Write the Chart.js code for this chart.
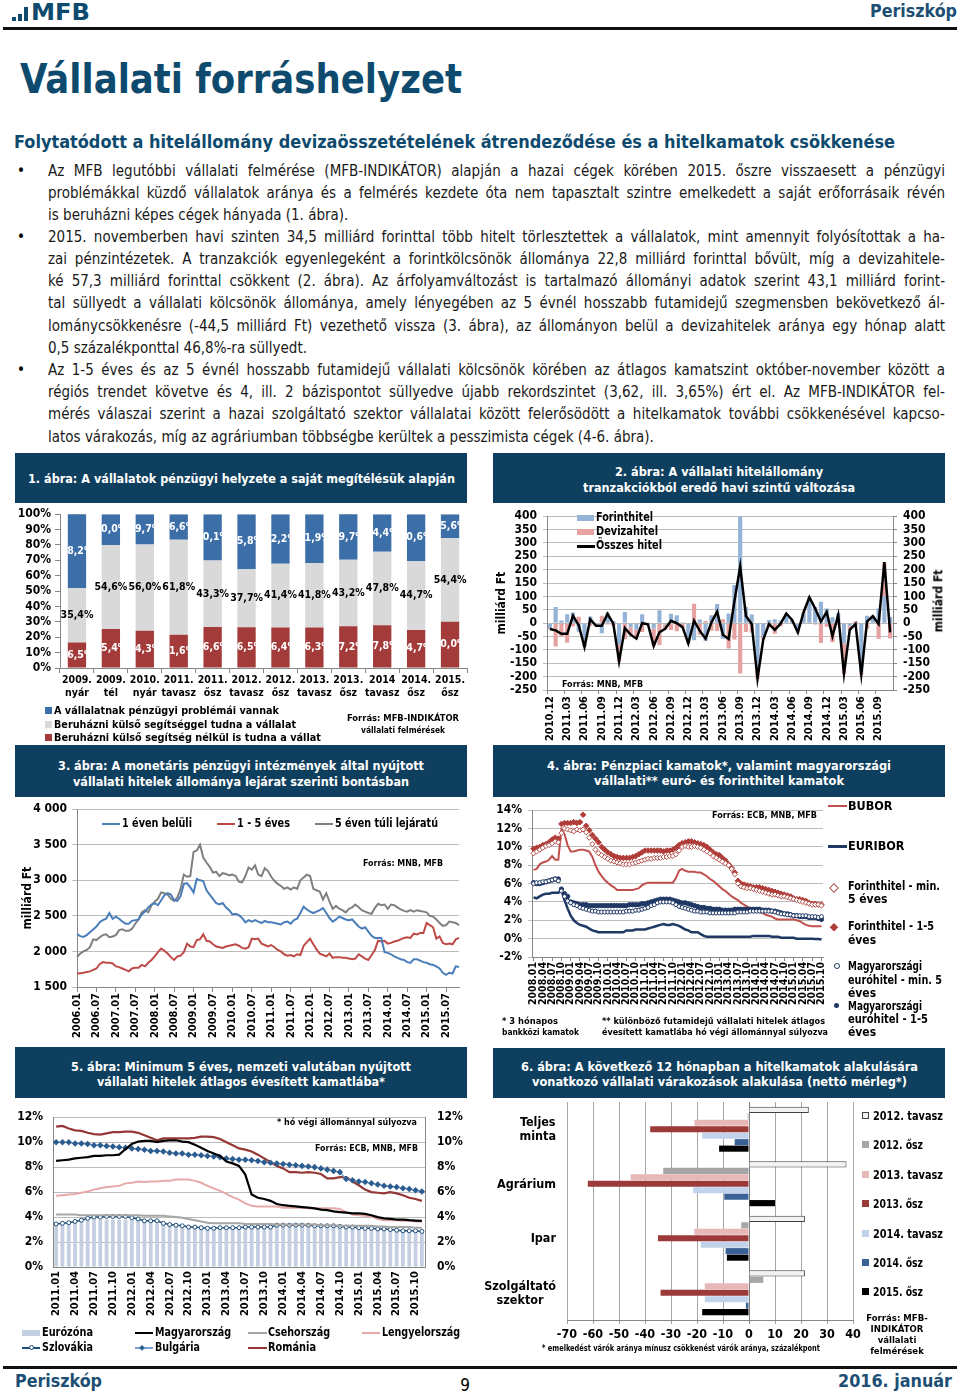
<!DOCTYPE html>
<html lang="hu">
<head>
<meta charset="utf-8">
<title>Vállalati forráshelyzet</title>
<script src="https://cdn.jsdelivr.net/npm/chart.js@4.4.1/dist/chart.umd.min.js"></script>
<style>
  html, body { margin: 0; padding: 0; }
  body { width: 960px; height: 1394px; position: relative; overflow: hidden; background: #fff;
         font-family: "DejaVu Sans Condensed", "DejaVu Sans", sans-serif; color: #000; }
  .a { position: absolute; white-space: nowrap; transform-origin: 0 0; }
  canvas { position: absolute; }
</style>
</head>
<body>
<canvas id="c1"></canvas>
<canvas id="c2"></canvas>
<canvas id="c3"></canvas>
<canvas id="c4"></canvas>
<canvas id="c5"></canvas>
<canvas id="c6"></canvas>
<script>
// ---- 1. ábra: pénzügyi helyzet (%)
const c1Labels = [['2009.', 'nyár'], ['2009.', 'tél'], ['2010.', 'nyár'], ['2011.', 'tavasz'], ['2011.', 'ősz'], ['2012.', 'tavasz'],
                  ['2012.', 'ősz'], ['2013.', 'tavasz'], ['2013.', 'ősz'], ['2014', 'tavasz'], ['2014.', 'ősz'], ['2015.', 'ősz']];
const c1Sajat = [16.5, 25.4, 24.3, 21.6, 26.6, 26.5, 26.4, 26.3, 27.2, 27.8, 24.7, 30.0];
const c1Kulso = [35.4, 54.6, 56.0, 61.8, 43.3, 37.7, 41.4, 41.8, 43.2, 47.8, 44.7, 54.4];
const c1Problema = [48.2, 20.0, 19.7, 16.6, 30.1, 35.8, 32.2, 31.9, 29.7, 24.4, 30.6, 15.6];

// ---- 2. ábra: havi tranzakciók, milliárd Ft (2010.12 - 2015.11)
const c2Forint = [-18, 60, 10, 33, 40, -32, -85, 25, -5, -38,
                  40, 8, -80, 42, -15, -25, 33, -5, -20, 48,
                  -5, 35, 30, 3, -66, -64, 14, -66, 30, 72,
                  -58, 36, 143, 400, 60, 32, -165, -50, 12, 15,
                  10, 35, 10, -30, 36, 90, 60, 80, 55, 22,
                  37, -75, -10, -10, -185, 28, 28, 55, 100, 22.8];
const c2Deviza = [-4, -87, -50, -73, -12, 24, -4, -10, -5, 28,
                  -5, -10, -63, -60, -28, -33, -33, 1, -65, -82,
                  -16, -26, -30, -18, -10, 73, -43, 8, -28, -29,
                  15, -95, -61, -188, -33, -35, -43, -11, -15, -40,
                  -12, 1, 2, -5, 5, 7, -5, -74, -13, -71,
                  -7, -114, -15, 7, -8, -22, -2, -58, 128, -57.3];
const c2Osszes = [-22, -27, -40, -40, 28, -8, -89, 15, -10, -10,
                  35, -2, -143, -18, -43, -58, 0, -4, -85, -34,
                  -21, 9, 0, -15, -76, 9, -29, -58, 2, 43,
                  -43, -59, 82, 212, 27, -3, -208, -61, -3, -25,
                  -2, 36, 12, -35, 41, 97, 55, 6, 42, -49,
                  30, -189, -25, -3, -193, 6, 26, -3, 228, -34.5];

// ---- 3. ábra: állomány lejárat szerint, milliárd Ft (2006.01 - 2015.11)
const c3Rovid = [2245, 2215, 2205, 2230, 2270, 2310, 2350, 2410, 2440, 2460, 2540, 2460,
                 2490, 2460, 2420, 2390, 2390, 2430, 2440, 2450, 2520, 2560, 2620, 2660,
                 2680, 2650, 2720, 2790, 2820, 2800, 2720, 2710, 2780, 2950, 2960, 2900,
                 2830, 3020, 3000, 2990, 2860, 2800, 2740, 2680, 2660, 2680, 2620, 2580,
                 2520, 2530, 2510, 2470, 2410, 2440, 2420, 2440, 2420, 2400, 2430, 2410,
                 2410, 2400, 2390, 2380, 2410, 2420, 2390, 2440, 2460, 2540, 2630, 2590,
                 2560, 2540, 2560, 2580, 2610, 2540, 2470, 2420, 2450, 2490, 2470, 2450,
                 2440, 2450, 2400, 2350, 2320, 2340, 2280, 2220, 2190, 2190, 2190, 1990,
                 1980, 1960, 1930, 1910, 1890, 1880, 1850, 1840, 1890, 1890, 1870, 1850,
                 1840, 1820, 1810, 1790, 1760, 1700, 1670, 1700, 1690, 1790, 1780];
const c3Kozep = [1690, 1695, 1700, 1710, 1720, 1740, 1760, 1820, 1850, 1840, 1840, 1830,
                 1790, 1780, 1760, 1740, 1720, 1760, 1770, 1770, 1810, 1790, 1840, 1880,
                 1930, 1990, 2040, 2010, 1970, 1920, 1880, 1930, 1940, 1990, 2110, 2070,
                 2060, 2160, 2170, 2240, 2150, 2140, 2100, 2070, 2060, 2050, 2070, 2080,
                 2090, 2100, 2080, 2050, 2040, 2060, 2180, 2170, 2180, 2110, 2090, 2070,
                 2090, 2060, 2020, 2000, 1960, 1940, 1950, 1930, 1960, 1950, 2080, 2130,
                 2180, 2100, 2030, 1970, 1950, 1930, 1970, 1910, 1920, 1920, 1910, 1910,
                 1900, 1890, 1900, 1960, 1930, 1900, 1880, 1950, 2020, 2150, 2140, 2150,
                 2110, 2120, 2140, 2150, 2170, 2190, 2200, 2190, 2250, 2240, 2260, 2260,
                 2400, 2370, 2340, 2180, 2210, 2120, 2100, 2110, 2100, 2170, 2190];
const c3Hosszu = [1920, 1970, 2000, 2020, 2060, 2170, 2160, 2200, 2230, 2240, 2200, 2210,
                  2230, 2300, 2310, 2290, 2290, 2320, 2390, 2450, 2550, 2580, 2550, 2650,
                  2700, 2740, 2830, 2820, 2800, 2740, 2710, 2760, 2880, 3080, 3050, 3060,
                  3400, 3420, 3500, 3320, 3250, 3190, 3110, 3120, 3060, 3100, 3090, 3070,
                  3080, 3060, 2980, 2970, 3060, 3180, 3150, 3210, 3080, 3060, 3170, 3130,
                  3050, 2990, 2950, 2920, 2880, 2900, 2870, 2900, 2880, 3000, 3040, 3080,
                  3060, 2880, 2860, 2840, 2730, 2820, 2700, 2600, 2640, 2600, 2580, 2550,
                  2600, 2620, 2660, 2620, 2580, 2560, 2540, 2530, 2610, 2670, 2650, 2660,
                  2600, 2660, 2650, 2620, 2590, 2570, 2560, 2580, 2560, 2580, 2570, 2560,
                  2550, 2500, 2490, 2450, 2400, 2360, 2370, 2420, 2410, 2400, 2370];

// ---- 4. ábra: kamatok, % (2008.01 - 2015.10)
const c4Bubor = [7.5, 7.6, 8.1, 8.3, 8.4, 8.6, 9.0, 8.6, 8.6, 11.9, 11.4, 10.2,
                 9.5, 9.5, 9.6, 9.7, 9.7, 9.6, 9.5, 8.9, 8.0, 7.3, 6.8, 6.4,
                 6.1, 5.8, 5.6, 5.3, 5.3, 5.3, 5.3, 5.3, 5.3, 5.4, 5.5, 5.8,
                 6.0, 6.1, 6.1, 6.1, 6.1, 6.1, 6.1, 6.1, 6.1, 6.1, 6.6, 7.4,
                 7.6, 7.4, 7.3, 7.3, 7.3, 7.2, 7.2, 7.0, 6.8, 6.5, 6.3, 6.0,
                 5.7, 5.4, 5.2, 4.9, 4.6, 4.4, 4.2, 3.9, 3.7, 3.5, 3.3, 3.1,
                 3.0, 2.9, 2.8, 2.6, 2.5, 2.4, 2.2, 2.1, 2.1, 2.1, 2.1, 2.1,
                 2.1, 2.0, 1.9, 1.7, 1.5, 1.4, 1.35, 1.35, 1.35, 1.35];
const c4Euribor = [4.5, 4.4, 4.6, 4.8, 4.9, 4.9, 5.0, 5.0, 5.0, 5.3, 4.2, 3.3,
                   2.5, 2.0, 1.7, 1.5, 1.4, 1.3, 1.1, 0.9, 0.8, 0.7, 0.7, 0.7,
                   0.7, 0.7, 0.7, 0.7, 0.7, 0.7, 0.9, 0.9, 0.9, 1.0, 1.0, 1.0,
                   1.0, 1.1, 1.2, 1.3, 1.4, 1.5, 1.6, 1.5, 1.5, 1.6, 1.5, 1.4,
                   1.2, 1.0, 0.9, 0.7, 0.7, 0.7, 0.5, 0.3, 0.2, 0.2, 0.2, 0.2,
                   0.2, 0.2, 0.2, 0.2, 0.2, 0.2, 0.2, 0.2, 0.2, 0.2, 0.2, 0.3,
                   0.3, 0.3, 0.3, 0.3, 0.3, 0.2, 0.2, 0.2, 0.1, 0.1, 0.1, 0.1,
                   0.1, 0.0, 0.0, 0.0, 0.0, 0.0, -0.02, -0.05, -0.05, -0.1];
const c4FtHosszu = [9.3, 9.5, 9.7, 9.9, 10.1, 10.2, 10.4, 10.6, 10.5, 11.5, 12.0, 11.9,
                    11.8, 11.7, 11.9, 11.8, 11.9, 11.6, 11.0, 10.3, 9.7, 9.3, 9.1, 8.9,
                    8.7, 8.5, 8.4, 8.3, 8.2, 8.1, 8.1, 8.1, 8.2, 8.3, 8.4, 8.5,
                    8.6, 8.7, 8.7, 8.8, 8.8, 8.8, 8.9, 8.9, 9.0, 9.0, 9.2, 9.6,
                    10.0, 10.1, 10.0, 10.0, 10.1, 10.0, 9.9, 9.7, 9.5, 9.3, 9.0, 8.8,
                    8.6, 8.4, 8.2, 8.0, 7.6, 7.0, 6.0, 5.7, 5.6, 5.5, 5.5, 5.4,
                    5.3, 5.2, 5.1, 5.0, 4.9, 4.8, 4.8, 4.7, 4.6, 4.6, 4.5, 4.4,
                    4.3, 4.2, 4.1, 4.0, 3.9, 3.8, 3.7, 3.7, 3.7, 3.6];
const c4FtKozep = [9.8, 9.9, 10.0, 10.2, 10.3, 10.5, 10.8, 11.0, 10.9, 12.5, 12.6, 12.6,
                   12.6, 12.7, 12.6, 12.7, 13.5, 12.3, 11.8, 11.3, 10.9, 10.5, 10.0, 9.7,
                   9.4, 9.2, 9.0, 8.9, 8.8, 8.8, 8.8, 8.8, 8.9, 9.0, 9.2, 9.4,
                   9.6, 9.6, 9.6, 9.6, 9.6, 9.6, 9.5, 9.6, 9.6, 9.7, 9.9, 10.2,
                   10.4, 10.5, 10.6, 10.6, 10.5, 10.4, 10.3, 10.2, 10.0, 9.7, 9.4, 9.2,
                   9.1, 8.8, 8.5, 8.1, 7.7, 7.2, 6.3, 6.0, 5.9, 5.8, 5.7, 5.6,
                   5.6, 5.6, 5.5, 5.4, 5.3, 5.2, 5.1, 5.0, 4.9, 4.8, 4.7, 4.6,
                   4.4, 4.3, 4.3, 4.2, 4.1, 3.9, 3.8, 3.8, 3.7, 3.7];
const c4EurHosszu = [6.0, 6.1, 6.1, 6.2, 6.2, 6.3, 6.4, 6.5, 6.3, 5.2, 4.6, 4.1,
                     3.9, 3.7, 3.6, 3.4, 3.3, 3.2, 3.1, 3.0, 3.0, 2.9, 2.9, 2.9,
                     2.9, 2.9, 2.9, 2.9, 2.9, 2.9, 3.0, 3.0, 3.0, 3.1, 3.1, 3.2,
                     3.3, 3.4, 3.6, 3.7, 3.9, 4.0, 4.0, 4.0, 4.0, 3.9, 3.7, 3.5,
                     3.4, 3.3, 3.2, 3.1, 3.0, 3.0, 2.9, 2.9, 2.9, 2.8, 2.8, 2.8,
                     2.8, 2.8, 2.8, 2.8, 2.8, 2.8, 2.9, 2.9, 2.9, 2.9, 3.0, 3.0,
                     3.0, 3.0, 3.0, 3.0, 3.0, 3.0, 2.9, 2.8, 2.7, 2.7, 2.6, 2.6,
                     2.5, 2.5, 2.5, 2.5, 2.5, 2.4, 2.4, 2.4, 2.3, 2.4];
const c4EurKozep = [6.1, 6.0, 6.0, 6.1, 6.2, 6.3, 6.4, 6.5, 6.5, 5.4, 4.9, 4.6,
                    4.0, 3.9, 3.8, 3.7, 3.7, 3.7, 3.6, 3.6, 3.6, 3.6, 3.6, 3.6,
                    3.6, 3.6, 3.6, 3.6, 3.6, 3.6, 3.6, 3.7, 3.7, 3.7, 3.7, 3.8,
                    3.8, 3.9, 4.0, 4.1, 4.2, 4.3, 4.3, 4.3, 4.3, 4.2, 4.1, 4.0,
                    3.9, 3.9, 3.8, 3.7, 3.6, 3.5, 3.4, 3.4, 3.3, 3.3, 3.2, 3.2,
                    3.2, 3.1, 3.1, 3.1, 3.1, 3.2, 3.2, 3.2, 3.2, 3.2, 3.2, 3.2,
                    3.2, 3.2, 3.1, 3.1, 3.1, 3.0, 3.0, 2.9, 2.8, 2.7, 2.7, 2.6,
                    2.5, 2.5, 2.4, 2.4, 2.4, 2.3, 2.3, 2.3, 2.2, 2.1];

// ---- 5. ábra: min. 5 éves hitelek kamatlába, % (2011.01 - 2015.11)
const c5Euro = [3.5, 3.5, 3.5, 3.6, 3.7, 3.8, 3.8, 3.8, 3.8, 3.8, 3.8, 3.8,
                3.8, 3.7, 3.6, 3.6, 3.5, 3.5, 3.4, 3.4, 3.3, 3.3, 3.2, 3.2,
                3.2, 3.2, 3.2, 3.2, 3.2, 3.2, 3.2, 3.2, 3.2, 3.3, 3.3, 3.4,
                3.4, 3.4, 3.4, 3.4, 3.4, 3.3, 3.3, 3.3, 3.3, 3.2, 3.2, 3.2,
                3.1, 3.1, 3.1, 3.0, 3.0, 3.0, 2.9, 2.9, 2.9, 2.9, 2.8];
const c5Magyar = [8.5, 8.55, 8.6, 8.7, 8.75, 8.8, 8.9, 8.9, 8.95, 8.95, 9.0, 9.45,
                  9.85, 10.05, 10.1, 10.1, 10.0, 10.1, 10.15, 10.15, 10.05, 10.0, 9.8, 9.55,
                  9.3, 9.1, 8.9, 8.45, 8.3, 8.1, 7.4, 5.8, 5.55, 5.45, 5.3, 5.05,
                  4.95, 4.9, 4.85, 4.8, 4.75, 4.7, 4.6, 4.55, 4.45, 4.4, 4.35, 4.3,
                  4.3, 4.25, 4.15, 4.0, 3.9, 3.85, 3.8, 3.8, 3.75, 3.72, 3.7];
const c5Cseh = [4.2, 4.2, 4.2, 4.2, 4.15, 4.15, 4.15, 4.15, 4.15, 4.15, 4.15, 4.15,
                4.15, 4.15, 4.1, 4.1, 4.1, 4.1, 4.05, 4.0, 3.95, 3.85, 3.75, 3.65,
                3.55, 3.5, 3.5, 3.5, 3.5, 3.5, 3.45, 3.45, 3.45, 3.45, 3.45, 3.4,
                3.4, 3.4, 3.4, 3.4, 3.4, 3.4, 3.35, 3.35, 3.35, 3.3, 3.3, 3.3,
                3.3, 3.3, 3.3, 3.25, 3.25, 3.2, 3.2, 3.2, 3.2, 3.15, 3.15];
const c5Lengyel = [5.7, 5.75, 5.8, 5.85, 5.95, 6.05, 6.2, 6.3, 6.4, 6.45, 6.5, 6.7,
                   6.75, 6.85, 6.8, 6.85, 6.85, 6.9, 6.9, 7.0, 7.0, 7.0, 6.9, 6.75,
                   6.5, 6.3, 6.1, 5.85, 5.6, 5.4, 5.1, 4.9, 4.85, 4.85, 4.85, 4.85,
                   4.75, 4.75, 4.75, 4.75, 4.7, 4.7, 4.7, 4.7, 4.7, 4.65, 4.4, 4.2,
                   4.15, 4.1, 4.05, 3.85, 3.75, 3.75, 3.75, 3.7, 3.7, 3.65, 3.65];
const c5Szlovak = [3.45, 3.5, 3.55, 3.65, 3.75, 3.9, 4.0, 4.0, 4.05, 4.05, 4.05, 4.05,
                   3.95, 3.85, 3.7, 3.7, 3.7, 3.5, 3.4, 3.35, 3.3, 3.2, 3.2, 3.15,
                   3.1, 3.1, 3.15, 3.15, 3.15, 3.15, 3.2, 3.2, 3.2, 3.2, 3.2, 3.35,
                   3.35, 3.35, 3.35, 3.35, 3.35, 3.3, 3.3, 3.3, 3.3, 3.25, 3.2, 3.2,
                   3.15, 3.1, 3.1, 3.05, 3.05, 3.0, 2.95, 2.9, 2.9, 2.9, 2.85];
const c5Bolgar = [10.0, 10.0, 10.0, 9.9, 9.9, 9.85, 9.75, 9.75, 9.7, 9.65, 9.6, 9.55,
                  9.5, 9.45, 9.4, 9.3, 9.3, 9.25, 9.15, 9.1, 9.1, 9.0, 9.0, 8.95,
                  8.9, 8.85, 8.8, 8.7, 8.65, 8.6, 8.6, 8.55, 8.5, 8.4, 8.35, 8.3,
                  8.25, 8.2, 8.15, 8.1, 8.05, 8.0, 7.9, 7.8, 7.7, 7.6, 7.05, 6.95,
                  6.85, 6.8, 6.7, 6.6, 6.5, 6.45, 6.4, 6.3, 6.25, 6.15, 6.05];
const c5Roman = [11.25, 11.3, 11.1, 10.95, 10.9, 10.75, 10.65, 10.6, 10.7, 10.8, 10.8, 10.85,
                 10.85, 10.75, 10.55, 10.35, 10.15, 10.3, 10.3, 10.3, 10.3, 10.3, 10.35, 10.45,
                 10.45, 10.4, 10.25, 10.0, 9.75, 9.5, 9.4, 9.25, 9.0, 8.7, 8.4, 8.1,
                 7.9, 7.6, 7.6, 7.55, 7.6, 7.55, 7.45, 7.1, 7.1, 7.2, 7.2, 6.85,
                 6.55, 6.2, 6.0, 5.95, 5.9, 6.0, 5.9, 5.75, 5.55, 5.45, 5.3];

// ---- 6. ábra: várakozások, nettó mérleg (százalékpont)
const c6Agazatok = [['Teljes', 'minta'], ['Agrárium'], ['Ipar'], ['Szolgáltató', 'szektor']];
const c6Tavasz2012 = [23, 37.5, 21.5, 21.5];
const c6Osz2012 = [-0.5, -33, -3, 5.5];
const c6Tavasz2013 = [-21, -45.5, -21, -17];
const c6Osz2013 = [-38, -62, -35, -34];
const c6Tavasz2014 = [-18, -21.5, -18.5, -17];
const c6Osz2014 = [-5.5, -9.5, -9, -1.2];
const c6Osz2015 = [-11.5, 10, -8.5, -18];

function honapok(ev, ho, db) {
  const out = [];
  for (let i = 0; i < db; i++) {
    const m = ho - 1 + i;
    out.push((ev + Math.floor(m / 12)) + '.' + String(m % 12 + 1).padStart(2, '0'));
  }
  return out;
}
const c2Honapok = honapok(2010, 12, c2Osszes.length);
const c3Honapok = honapok(2006, 1, c3Rovid.length);
const c4Honapok = honapok(2008, 1, c4Bubor.length);
const c5Honapok = honapok(2011, 1, c5Magyar.length);

// ---- page helpers
const KEK = '#0e4a6e', NAVY = '#0f3f5e', AX = '#868686', GR = '#bcbcbc', NONE = 'rgba(0,0,0,0)';

function txt(x, y, s, size, o = {}) {
  const d = document.createElement('div');
  d.className = 'a';
  d.textContent = s;
  d.style.fontSize = size + 'px';
  d.style.lineHeight = size + 'px';
  d.style.fontWeight = o.normal ? 'normal' : 'bold';
  if (o.color) d.style.color = o.color;
  document.body.appendChild(d);
  const nat = d.getBoundingClientRect().width;
  const w = o.w || nat;
  if (o.w) d.style.transform = 'scaleX(' + (o.w / nat) + ')';
  let left = x;
  if (o.align === 'center') left = x - w / 2;
  if (o.align === 'right') left = x - w;
  d.style.left = left + 'px';
  d.style.top = (y - size / 2) + 'px';
  return d;
}
function vtxt(cx, cy, s, size) {
  const d = txt(0, 0, s, size);
  const w = d.getBoundingClientRect().width;
  d.style.left = (cx - w / 2) + 'px';
  d.style.top = (cy - size / 2) + 'px';
  d.style.transformOrigin = '50% 50%';
  d.style.transform = 'rotate(-90deg)';
}
function rect(x, y, w, h, css) {
  const d = document.createElement('div');
  d.className = 'a';
  Object.assign(d.style, { left: x + 'px', top: y + 'px', width: w + 'px', height: h + 'px' }, css || {});
  document.body.appendChild(d);
  return d;
}
function sor(y, s, utolso) {
  const d = txt(48, y, s, 15, { normal: true, color: '#1a1a1a' });
  if (!utolso) {
    const nat = d.getBoundingClientRect().width;
    const gaps = (s.match(/ /g) || []).length;
    d.style.wordSpacing = ((897 - nat) / gaps) + 'px';
  }
}
function cim(x, y, w, h, sorok) {
  rect(x, y, w, h, { background: NAVY });
  sorok.forEach(r => txt(x + w / 2, r[0], r[1], 13, { color: '#fff', w: r[2], align: 'center' }));
}

// ---- header, text
rect(12, 17, 4, 4, { background: KEK });
rect(18, 14, 4, 7, { background: KEK });
rect(24, 7, 4, 14, { background: KEK });
txt(31, 12, 'MFB', 23, { color: KEK, w: 59 });
txt(957, 11, 'Periszkóp', 17, { color: '#1d4f74', w: 87, align: 'right' });
rect(3, 27, 954, 3, { background: '#111' });

txt(20, 79, 'Vállalati forráshelyzet', 40, { color: KEK, w: 442 });
txt(14, 142, 'Folytatódott a hitelállomány devizaösszetételének átrendeződése és a hitelkamatok csökkenése', 17, { color: KEK, w: 881 });

[171, 237, 370].forEach(y => txt(17, y, '•', 15, { normal: true }));
sor(171, 'Az MFB legutóbbi vállalati felmérése (MFB-INDIKÁTOR) alapján a hazai cégek körében 2015. őszre visszaesett a pénzügyi');
sor(193, 'problémákkal küzdő vállalatok aránya és a felmérés kezdete óta nem tapasztalt szintre emelkedett a saját erőforrásaik révén');
sor(215, 'is beruházni képes cégek hányada (1. ábra).', true);
sor(237, '2015. novemberben havi szinten 34,5 milliárd forinttal több hitelt törlesztettek a vállalatok, mint amennyit folyósítottak a ha-');
sor(259, 'zai pénzintézetek. A tranzakciók egyenlegeként a forintkölcsönök állománya 22,8 milliárd forinttal bővült, míg a devizahitele-');
sor(281, 'ké 57,3 milliárd forinttal csökkent (2. ábra). Az árfolyamváltozást is tartalmazó állományi adatok szerint 43,1 milliárd forint-');
sor(303, 'tal süllyedt a vállalati kölcsönök állománya, amely lényegében az 5 évnél hosszabb futamidejű szegmensben bekövetkező ál-');
sor(326, 'lománycsökkenésre (-44,5 milliárd Ft) vezethető vissza (3. ábra), az állományon belül a devizahitelek aránya egy hónap alatt');
sor(348, '0,5 százalékponttal 46,8%-ra süllyedt.', true);
sor(370, 'Az 1-5 éves és az 5 évnél hosszabb futamidejű vállalati kölcsönök körében az átlagos kamatszint október-november között a');
sor(392, 'régiós trendet követve és 4, ill. 2 bázispontot süllyedve újabb rekordszintet (3,62, ill. 3,65%) ért el. Az MFB-INDIKÁTOR fel-');
sor(414, 'mérés válaszai szerint a hazai szolgáltató szektor vállalatai között felerősödött a hitelkamatok további csökkenésével kapcso-');
sor(437, 'latos várakozás, míg az agráriumban többségbe kerültek a pesszimista cégek (4-6. ábra).', true);

// ---- chart title boxes
cim(15, 453, 452, 50, [[478, '1. ábra: A vállalatok pénzügyi helyzete a saját megítélésük alapján', 427]]);
cim(493, 453, 452, 50, [[471, '2. ábra: A vállalati hitelállomány', 208], [487, 'tranzakciókból eredő havi szintű változása', 272]]);
cim(15, 745, 452, 52, [[765, '3. ábra: A monetáris pénzügyi intézmények által nyújtott', 366], [781, 'vállalati hitelek állománya lejárat szerinti bontásban', 336]]);
cim(493, 745, 452, 52, [[765, '4. ábra: Pénzpiaci kamatok*, valamint magyarországi', 344], [780, 'vállalati** euró- és forinthitel kamatok', 250]]);
cim(15, 1047, 452, 51, [[1066, '5. ábra: Minimum 5 éves, nemzeti valutában nyújtott', 340], [1081, 'vállalati hitelek átlagos évesített kamatlába*', 288]]);
cim(493, 1048, 452, 50, [[1066, '6. ábra: A következő 12 hónapban a hitelkamatok alakulására', 397], [1081, 'vonatkozó vállalati várakozások alakulása (nettó mérleg*)', 375]]);

// ---- footer
rect(3, 1366, 954, 3, { background: '#111' });
txt(15, 1381, 'Periszkóp', 17, { color: '#1d4f74', w: 87 });
txt(465, 1385, '9', 17, { normal: true, align: 'center' });
txt(952, 1381, '2016. január', 17, { color: '#1d4f74', w: 114, align: 'right' });

// ---- Chart.js
Chart.defaults.font.family = '"DejaVu Sans Condensed", "DejaVu Sans", sans-serif';
Chart.defaults.font.weight = 'bold';
Chart.defaults.font.size = 11;
Chart.defaults.color = '#000';
Chart.defaults.animation = false;
Chart.defaults.responsive = false;
Chart.defaults.maintainAspectRatio = false;
Chart.defaults.devicePixelRatio = 1;
Chart.defaults.plugins.legend.display = false;
Chart.defaults.plugins.tooltip.enabled = false;
Chart.defaults.events = [];

function fixW(w) { return s => { s.width = w; }; }
function fixH(h) { return s => { s.height = h; }; }
function place(id, x, y, w, h) {
  const c = document.getElementById(id);
  c.width = w; c.height = h;
  c.style.left = x + 'px'; c.style.top = y + 'px';
  return c;
}

const barLabels = {
  id: 'barLabels',
  afterDatasetsDraw(chart) {
    const ctx = chart.ctx;
    ctx.save();
    ctx.font = 'bold 10.5px "DejaVu Sans Condensed", "DejaVu Sans", sans-serif';
    ctx.textAlign = 'center';
    ctx.textBaseline = 'middle';
    chart.data.datasets.forEach((ds, i) => {
      chart.getDatasetMeta(i).data.forEach((bar, j) => {
        ctx.fillStyle = ds.labelColor;
        ctx.fillText(ds.data[j].toFixed(1).replace('.', ',') + '%', bar.x, (bar.y + bar.base) / 2);
      });
    });
    ctx.restore();
  }
};

// 1. ábra
new Chart(place('c1', 0, 503, 480, 242), {
  type: 'bar',
  data: {
    labels: c1Labels,
    datasets: [
      { label: 'Beruházni külső segítség nélkül is tudna a vállat', data: c1Sajat, backgroundColor: '#a43b3b', labelColor: '#fff' },
      { label: 'Beruházni külső segítséggel tudna a vállalat', data: c1Kulso, backgroundColor: '#d9d9d9', labelColor: '#000' },
      { label: 'A vállalatnak pénzügyi problémái vannak', data: c1Problema, backgroundColor: '#3c6ea8', labelColor: '#fff' }
    ]
  },
  options: {
    layout: { padding: { top: 9, right: 13, left: 0, bottom: 0 } },
    datasets: { bar: { barPercentage: 0.54, categoryPercentage: 1 } },
    scales: {
      x: { stacked: true, grid: { drawOnChartArea: false, tickLength: 5, color: AX }, border: { color: AX },
           ticks: { font: { size: 10.5 }, padding: 1, maxRotation: 0, autoSkip: false }, afterFit: fixH(77) },
      y: { stacked: true, min: 0, max: 100, grid: { drawOnChartArea: false, tickLength: 5, color: AX }, border: { color: AX },
           ticks: { stepSize: 10, autoSkip: false, font: { size: 12 }, padding: 4, callback: v => v + '%' }, afterFit: fixW(60) }
    }
  },
  plugins: [barLabels]
});
rect(45, 707, 7, 7, { background: '#3c6ea8' });
rect(45, 721, 7, 7, { background: '#d9d9d9' });
rect(45, 734, 7, 7, { background: '#a43b3b' });
txt(54, 710, 'A vállalatnak pénzügyi problémái vannak', 11, { w: 225 });
txt(54, 724, 'Beruházni külső segítséggel tudna a vállalat', 11, { w: 242 });
txt(54, 737, 'Beruházni külső segítség nélkül is tudna a vállat', 11, { w: 267 });
txt(403, 718, 'Forrás: MFB-INDIKÁTOR', 9.5, { w: 112, align: 'center' });
txt(403, 730, 'vállalati felmérések', 9.5, { w: 84, align: 'center' });

// 2. ábra
new Chart(place('c2', 480, 503, 480, 252), {
  type: 'bar',
  data: {
    labels: c2Honapok,
    datasets: [
      { type: 'line', label: 'Összes hitel', data: c2Osszes, borderColor: '#000', borderWidth: 2.5, pointRadius: 0, tension: 0, order: 0, stack: 'ossz' },
      { type: 'bar', label: 'Forinthitel', data: c2Forint, backgroundColor: '#95b3d7', order: 1, stack: 'hitel', barPercentage: 0.72, categoryPercentage: 1 },
      { type: 'bar', label: 'Devizahitel', data: c2Deviza, backgroundColor: '#e6a2a1', order: 1, stack: 'hitel', barPercentage: 0.72, categoryPercentage: 1 }
    ]
  },
  options: {
    layout: { padding: { top: 9, right: 0, left: 0, bottom: 0 } },
    scales: {
      x: { stacked: true, offset: true, grid: { drawOnChartArea: false, tickLength: 4, color: c => c.index % 3 === 0 ? AX : NONE }, border: { color: AX },
           ticks: { autoSkip: false, maxRotation: 90, minRotation: 90, font: { size: 11 }, padding: 2,
                    callback: (v, i) => i % 3 === 0 ? c2Honapok[i] : '' }, afterFit: fixH(65) },
      y: { stacked: true, min: -250, max: 400, grid: { color: GR, tickLength: 4 }, border: { color: AX },
           ticks: { stepSize: 50, autoSkip: false, font: { size: 12 }, padding: 6 },
           title: { display: true, text: 'milliárd Ft', font: { size: 12 }, padding: { top: 15, bottom: 0 } }, afterFit: fixW(67) },
      y2: { position: 'right', min: -250, max: 400, grid: { drawOnChartArea: false, tickLength: 4, color: AX }, border: { color: AX },
            ticks: { stepSize: 50, autoSkip: false, font: { size: 12 }, padding: 6 }, afterFit: fixW(67) }
    }
  }
});
vtxt(938, 601, 'milliárd Ft', 12);
rect(577, 515, 17, 6, { background: '#95b3d7' });
rect(577, 529, 17, 6, { background: '#e6a2a1' });
rect(577, 545, 18, 2.5, { background: '#000' });
txt(596, 518, 'Forinthitel', 11.5, { w: 57 });
txt(596, 532, 'Devizahitel', 11.5, { w: 62 });
txt(596, 546, 'Összes hitel', 11.5, { w: 66 });
txt(562, 684, 'Forrás: MNB, MFB', 9.5, { w: 81 });

// 3. ábra
new Chart(place('c3', 0, 797, 480, 248), {
  type: 'line',
  data: {
    labels: c3Honapok,
    datasets: [
      { label: '1 éven belüli', data: c3Rovid, borderColor: '#4a7ebb' },
      { label: '1 - 5 éves', data: c3Kozep, borderColor: '#be4b48' },
      { label: '5 éven túli lejáratú', data: c3Hosszu, borderColor: '#808080' }
    ]
  },
  options: {
    elements: { point: { radius: 0 }, line: { borderWidth: 2, tension: 0 } },
    layout: { padding: { top: 10, right: 21, left: 0, bottom: 0 } },
    scales: {
      x: { offset: false, grid: { drawOnChartArea: false, tickLength: 5, color: c => c.index % 6 === 0 ? AX : NONE }, border: { color: AX },
           ticks: { autoSkip: false, maxRotation: 90, minRotation: 90, font: { size: 11 }, padding: 1,
                    callback: (v, i) => i % 6 === 0 ? c3Honapok[i] : '' }, afterFit: fixH(58) },
      y: { min: 1500, max: 4000, grid: { color: GR, tickLength: 5 }, border: { color: AX },
           ticks: { stepSize: 500, autoSkip: false, font: { size: 12 }, padding: 5, callback: v => String(v).replace(/\B(?=(\d{3})+(?!\d))/g, ' ') },
           title: { display: true, text: 'milliárd Ft', font: { size: 12 }, padding: { top: 21, bottom: 0 } }, afterFit: fixW(77) }
    }
  }
});
rect(102, 823, 18, 2, { background: '#4a7ebb' });
rect(217, 823, 18, 2, { background: '#be4b48' });
rect(315, 823, 18, 2, { background: '#808080' });
txt(122, 824, '1 éven belüli', 11.5, { w: 70 });
txt(237, 824, '1 - 5 éves', 11.5, { w: 53 });
txt(335, 824, '5 éven túli lejáratú', 11.5, { w: 103 });
txt(363, 863, 'Forrás: MNB, MFB', 9.5, { w: 80 });

// 4. ábra
new Chart(place('c4', 480, 797, 480, 248), {
  type: 'line',
  data: {
    labels: c4Honapok,
    datasets: [
      { label: 'BUBOR', data: c4Bubor, borderColor: '#c0504d', borderWidth: 2, pointRadius: 0, order: 1 },
      { label: 'EURIBOR', data: c4Euribor, borderColor: '#1f3864', borderWidth: 2.5, pointRadius: 0, order: 1 },
      { label: 'Forinthitel - min. 5 éves', data: c4FtHosszu, showLine: false, pointStyle: 'rectRot', pointRadius: 2.6,
        pointBackgroundColor: '#fff', pointBorderColor: '#b2504c', pointBorderWidth: 1, order: 0 },
      { label: 'Forinthitel - 1-5 éves', data: c4FtKozep, showLine: false, pointStyle: 'rectRot', pointRadius: 2.8,
        pointBackgroundColor: '#b03c38', pointBorderColor: '#b03c38', pointBorderWidth: 1, order: 0 },
      { label: 'Magyarországi euróhitel - min. 5 éves', data: c4EurHosszu, showLine: false, pointStyle: 'circle', pointRadius: 2,
        pointBackgroundColor: '#fff', pointBorderColor: '#1f3864', pointBorderWidth: 1, order: 0 },
      { label: 'Magyarországi euróhitel - 1-5 éves', data: c4EurKozep, showLine: false, pointStyle: 'circle', pointRadius: 2.2,
        pointBackgroundColor: '#1f3864', pointBorderColor: '#1f3864', pointBorderWidth: 1, order: 0 }
    ]
  },
  options: {
    elements: { line: { tension: 0 } },
    layout: { padding: { top: 9, right: 137, left: 0, bottom: 0 } },
    scales: {
      x: { offset: true, grid: { drawOnChartArea: false, tickLength: 4, color: c => c.index % 3 === 0 ? AX : NONE }, border: { color: AX },
           ticks: { autoSkip: false, maxRotation: 90, minRotation: 90, font: { size: 10.5 }, padding: 1,
                    callback: (v, i) => i % 3 === 0 ? c4Honapok[i] : '' }, afterFit: fixH(88) },
      y: { min: -2, max: 14, grid: { color: GR, tickLength: 4 }, border: { color: AX },
           ticks: { stepSize: 2, autoSkip: false, font: { size: 12 }, padding: 6, callback: v => v + '%' }, afterFit: fixW(52) }
    }
  }
});
rect(828, 805, 19, 2, { background: '#c0504d' });
rect(828, 845, 19, 2.5, { background: '#1f3864' });
rect(834, 883, 5, 5, { border: '1px solid #b2504c', background: '#fff', transform: 'rotate(45deg)' });
rect(834, 923, 6, 6, { background: '#b03c38', transform: 'rotate(45deg)' });
rect(834, 963, 4, 4, { border: '1px solid #1f3864', background: '#fff', borderRadius: '50%' });
rect(834, 1003, 5, 5, { background: '#1f3864', borderRadius: '50%' });
txt(848, 806, 'BUBOR', 12.5);
txt(848, 846, 'EURIBOR', 12.5);
txt(848, 886, 'Forinthitel - min.', 12, { w: 92 });
txt(848, 899, '5 éves', 12);
txt(848, 926, 'Forinthitel - 1-5', 12, { w: 86 });
txt(848, 940, 'éves', 12);
txt(848, 966, 'Magyarországi', 12, { w: 74 });
txt(848, 980, 'euróhitel - min. 5', 12, { w: 94 });
txt(848, 993, 'éves', 12);
txt(848, 1006, 'Magyarországi', 12, { w: 74 });
txt(848, 1019, 'euróhitel - 1-5', 12, { w: 80 });
txt(848, 1032, 'éves', 12);
txt(712, 815, 'Forrás: ECB, MNB, MFB', 9.5, { w: 105 });
txt(502, 1021, '* 3 hónapos', 9, { w: 56 });
txt(502, 1032, 'bankközi kamatok', 9, { w: 77 });
txt(602, 1021, '** különböző futamidejű vállalati hitelek átlagos', 9, { w: 223 });
txt(602, 1032, 'évesített kamatlába hó végi állománnyal súlyozva', 9, { w: 226 });

// 5. ábra
new Chart(place('c5', 0, 1098, 480, 267), {
  type: 'bar',
  data: {
    labels: c5Honapok,
    datasets: [
      { type: 'line', label: 'Magyarország', data: c5Magyar, borderColor: '#000', borderWidth: 2.2, order: 0 },
      { type: 'line', label: 'Csehország', data: c5Cseh, borderColor: '#a6a6a6', borderWidth: 2, order: 0 },
      { type: 'line', label: 'Lengyelország', data: c5Lengyel, borderColor: '#e6a9a8', borderWidth: 2, order: 0 },
      { type: 'line', label: 'Szlovákia', data: c5Szlovak, borderColor: '#1f4e79', borderWidth: 1.5, pointRadius: 2, pointStyle: 'circle',
        pointBackgroundColor: '#fff', pointBorderColor: '#1f4e79', pointBorderWidth: 1, order: 0 },
      { type: 'line', label: 'Bulgária', data: c5Bolgar, borderColor: '#7aa3d4', borderWidth: 1.5, pointRadius: 2.2, pointStyle: 'rectRot',
        pointBackgroundColor: '#2c5d8f', pointBorderColor: '#2c5d8f', order: 0 },
      { type: 'line', label: 'Románia', data: c5Roman, borderColor: '#953735', borderWidth: 2.2, order: 0 },
      { type: 'bar', label: 'Eurózóna', data: c5Euro, backgroundColor: '#c4cfe2', barPercentage: 0.6, categoryPercentage: 1, order: 1 }
    ]
  },
  options: {
    elements: { point: { radius: 0 }, line: { tension: 0 } },
    layout: { padding: { top: 10, right: 0, left: 0, bottom: 0 } },
    scales: {
      x: { offset: true, grid: { drawOnChartArea: false, drawTicks: false }, border: { color: AX },
           ticks: { autoSkip: false, maxRotation: 90, minRotation: 90, font: { size: 11 }, padding: 4,
                    callback: (v, i) => i % 3 === 0 ? c5Honapok[i] : '' }, afterFit: fixH(98) },
      y: { min: 0, max: 12, grid: { color: GR, drawTicks: false }, border: { color: AX },
           ticks: { stepSize: 2, autoSkip: false, font: { size: 12 }, padding: 10, callback: v => v + '%' }, afterFit: fixW(53) },
      y2: { position: 'right', min: 0, max: 12, grid: { drawOnChartArea: false, drawTicks: false }, border: { color: AX },
            ticks: { stepSize: 2, autoSkip: false, font: { size: 12 }, padding: 12, callback: v => v + '%' }, afterFit: fixW(55) }
    }
  }
});
rect(22, 1330, 18, 6, { background: '#c4cfe2' });
rect(135, 1332, 18, 2.2, { background: '#000' });
rect(248, 1332, 19, 2, { background: '#a6a6a6' });
rect(362, 1332, 18, 2, { background: '#e6a9a8' });
rect(22, 1347, 18, 1.5, { background: '#1f4e79' });
rect(29, 1345, 3, 3, { border: '1px solid #1f4e79', background: '#fff', borderRadius: '50%' });
rect(135, 1347, 18, 1.5, { background: '#7aa3d4' });
rect(142, 1345, 4, 4, { background: '#2c5d8f', transform: 'rotate(45deg)' });
rect(248, 1347, 19, 2.2, { background: '#953735' });
txt(42, 1333, 'Eurózóna', 11.5, { w: 51 });
txt(155, 1333, 'Magyarország', 11.5, { w: 76 });
txt(268, 1333, 'Csehország', 11.5, { w: 62 });
txt(382, 1333, 'Lengyelország', 11.5, { w: 78 });
txt(42, 1348, 'Szlovákia', 11.5, { w: 51 });
txt(155, 1348, 'Bulgária', 11.5, { w: 45 });
txt(268, 1348, 'Románia', 11.5, { w: 48 });
txt(277, 1122, '* hó végi állománnyal súlyozva', 9.5, { w: 140 });
txt(315, 1148, 'Forrás: ECB, MNB, MFB', 9.5, { w: 103 });

// 6. ábra
const c6Szinek = [
  { label: '2012. tavasz', data: c6Tavasz2012, backgroundColor: '#f2f2f2', borderColor: '#404040', borderWidth: 1 },
  { label: '2012. ősz', data: c6Osz2012, backgroundColor: '#a6a6a6' },
  { label: '2013. tavasz', data: c6Tavasz2013, backgroundColor: '#e6b9b8' },
  { label: '2013. ősz', data: c6Osz2013, backgroundColor: '#9b3a38' },
  { label: '2014. tavasz', data: c6Tavasz2014, backgroundColor: '#c0d3ea' },
  { label: '2014. ősz', data: c6Osz2014, backgroundColor: '#3a6296' },
  { label: '2015. ősz', data: c6Osz2015, backgroundColor: '#000' }
];
const c6 = new Chart(place('c6', 480, 1098, 480, 267), {
  type: 'bar',
  data: { labels: c6Agazatok, datasets: c6Szinek },
  options: {
    indexAxis: 'y',
    layout: { padding: { top: 4, right: 107, left: 0, bottom: 15 } },
    datasets: { bar: { barPercentage: 0.95, categoryPercentage: 0.83 } },
    scales: {
      x: { min: -70, max: 40, grid: { color: c => c.tick && c.tick.value === 0 ? '#7f7f7f' : '#a6a6a6', tickLength: 4 }, border: { color: AX },
           ticks: { stepSize: 10, autoSkip: false, maxRotation: 0, minRotation: 0, font: { size: 12.5 }, padding: 3 }, afterFit: fixH(30) },
      y: { grid: { display: false }, border: { display: false }, ticks: { display: false }, afterFit: fixW(87) }
    }
  }
});
c6Agazatok.forEach((lines, i) => {
  const cy = 1098 + c6.scales.y.getPixelForValue(i);
  const d = document.createElement('div');
  d.className = 'a';
  d.style.fontSize = '12.5px';
  d.style.lineHeight = '14px';
  d.style.fontWeight = 'bold';
  d.style.textAlign = 'center';
  d.style.whiteSpace = 'pre';
  d.textContent = lines.join('\n');
  document.body.appendChild(d);
  const r = d.getBoundingClientRect();
  d.style.left = (556 - r.width) + 'px';
  d.style.top = (cy - r.height / 2) + 'px';
});
[1116, 1145, 1175, 1204, 1234, 1263, 1292].forEach((y, i) => {
  const ds = c6Szinek[i];
  rect(862, y - 4, 7, 7, { background: ds.backgroundColor, border: ds.borderWidth ? '1px solid #404040' : 'none', boxSizing: 'border-box' });
  txt(873, y, ds.label, 12, { w: ds.label.indexOf('tavasz') > 0 ? 70 : 50 });
});
txt(897, 1318, 'Forrás: MFB-', 9.5, { align: 'center' });
txt(897, 1329, 'INDIKÁTOR', 9.5, { align: 'center' });
txt(897, 1340, 'vállalati', 9.5, { align: 'center' });
txt(897, 1351, 'felmérések', 9.5, { align: 'center' });
txt(542, 1349, '* emelkedést várók aránya mínusz csökkenést várók aránya, százalékpont', 8, { w: 278 });
</script>
</body>
</html>
